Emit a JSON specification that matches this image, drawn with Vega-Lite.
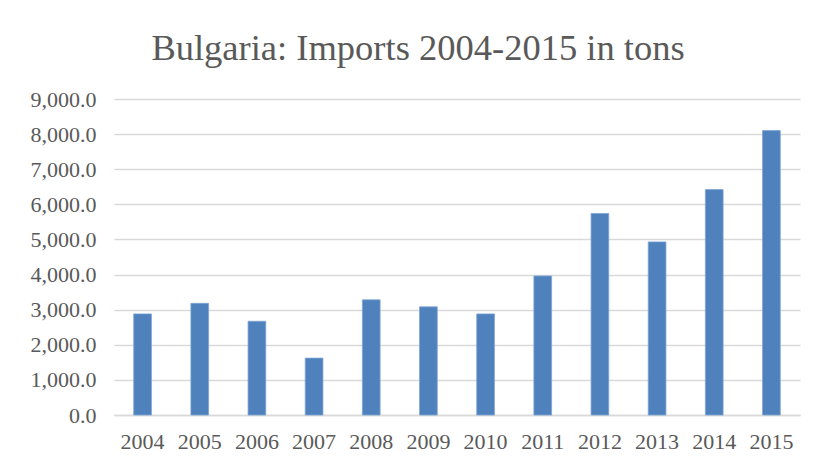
{
  "$schema": "https://vega.github.io/schema/vega-lite/v6.json",
  "width": 686,
  "height": 316,
  "autosize": "none",
  "padding": {"left": 114, "top": 99, "right": 16, "bottom": 52},
  "background": "white",
  "title": {
    "text": "Bulgaria: Imports 2004-2015 in tons",
    "font": "Liberation Serif",
    "fontSize": 36.5,
    "fontWeight": "normal",
    "color": "#595959",
    "anchor": "middle",
    "dx": -39,
    "offset": 21
  },
  "data": {
    "values": [
      {"year": "2004", "tons": 2880},
      {"year": "2005", "tons": 3180},
      {"year": "2006", "tons": 2670},
      {"year": "2007", "tons": 1620},
      {"year": "2008", "tons": 3280},
      {"year": "2009", "tons": 3080},
      {"year": "2010", "tons": 2880},
      {"year": "2011", "tons": 3960},
      {"year": "2012", "tons": 5740},
      {"year": "2013", "tons": 4930},
      {"year": "2014", "tons": 6420},
      {"year": "2015", "tons": 8100}
    ]
  },
  "mark": {"type": "bar", "color": "#4F81BD", "stroke": "#7FA4D6", "strokeWidth": 0.8},
  "encoding": {
    "x": {
      "field": "year",
      "type": "ordinal",
      "title": null,
      "scale": {"paddingInner": 0.69, "paddingOuter": 0.345},
      "axis": {
        "labelAngle": 0,
        "labelFont": "Liberation Serif",
        "labelFontSize": 22,
        "labelColor": "#595959",
        "labelPadding": 16,
        "ticks": false,
        "domainColor": "#D9D9D9",
        "domainWidth": 1.5
      }
    },
    "y": {
      "field": "tons",
      "type": "quantitative",
      "title": null,
      "scale": {"domain": [0, 9000], "nice": false},
      "axis": {
        "values": [0, 1000, 2000, 3000, 4000, 5000, 6000, 7000, 8000, 9000],
        "format": ",.1f",
        "labelFont": "Liberation Serif",
        "labelFontSize": 22,
        "labelColor": "#595959",
        "labelPadding": 18,
        "ticks": false,
        "domain": false,
        "gridColor": "#D9D9D9",
        "gridWidth": 1.5
      }
    }
  },
  "config": {"view": {"stroke": null}}
}
